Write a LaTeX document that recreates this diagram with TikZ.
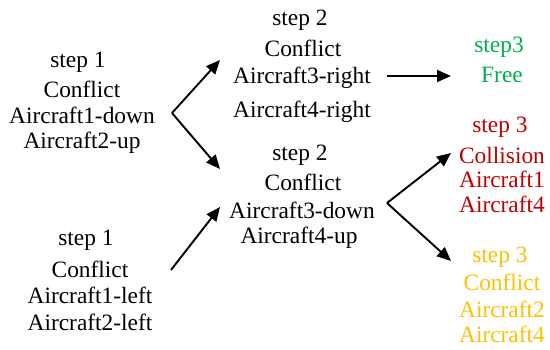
\documentclass[tikz,border=0pt]{standalone}
\usepackage{fontspec}
\setmainfont{Liberation Serif}
\usetikzlibrary{arrows.meta}
\definecolor{freegreen}{HTML}{00B050}
\definecolor{collred}{HTML}{C00000}
\definecolor{confamber}{HTML}{FFC000}
\begin{document}
\begin{tikzpicture}[x=1pt,y=-1pt,
  txt/.style={anchor=base,inner sep=0pt,font=\rmfamily\fontsize{23.4}{26}\selectfont},
  flow/.style={line width=1.9pt,-{Triangle[length=14pt,width=12pt]}}]
\useasboundingbox[fill=white] (0,0) rectangle (550,349);

% step 1, first case
\node[txt] (a1) at (78,67)  {step 1};
\node[txt] (a2) at (82,97)  {Conflict};
\node[txt] (a3) at (82,123) {Aircraft1-down};
\node[txt] (a4) at (82,148) {Aircraft2-up};

% step 1, second case
\node[txt] (d1) at (86,245) {step 1};
\node[txt] (d2) at (90,277) {Conflict};
\node[txt] (d3) at (90,303) {Aircraft1-left};
\node[txt] (d4) at (90,330) {Aircraft2-left};

% step 2, upper
\node[txt] (b1) at (300,25)  {step 2};
\node[txt] (b2) at (303,56)  {Conflict};
\node[txt] (b3) at (302,83)  {Aircraft3-right};
\node[txt] (b4) at (302,117) {Aircraft4-right};

% step 2, lower
\node[txt] (c1) at (300,160) {step 2};
\node[txt] (c2) at (303,190) {Conflict};
\node[txt] (c3) at (302,218) {Aircraft3-down};
\node[txt] (c4) at (299,243) {Aircraft4-up};

% step 3 outcomes
\node[txt,text=freegreen] (g1) at (499,52) {step3};
\node[txt,text=freegreen] (g2) at (502,82) {Free};

\node[txt,text=collred] (r1) at (500,132) {step 3};
\node[txt,text=collred] (r2) at (502,163) {Collision};
\node[txt,text=collred] (r3) at (502,187) {Aircraft1};
\node[txt,text=collred] (r4) at (502,212) {Aircraft4};

\node[txt,text=confamber] (o1) at (500,262) {step 3};
\node[txt,text=confamber] (o2) at (502,290) {Conflict};
\node[txt,text=confamber] (o3) at (502,317) {Aircraft2};
\node[txt,text=confamber] (o4) at (502,342) {Aircraft4};

% branch points and arrow ends
\coordinate (fa) at (172,113);
\coordinate (fa-up) at (220,60);
\coordinate (fa-dn) at (220,169);
\coordinate (fd) at (171,270);
\coordinate (fd-up) at (220,207);
\coordinate (fb) at (387,76);
\coordinate (fb-r) at (451,76);
\coordinate (fc) at (387,203);
\coordinate (fc-up) at (451,153);
\coordinate (fc-dn) at (451,261);

\draw[flow] (fa) -- (fa-up);
\draw[flow] (fa) -- (fa-dn);
\draw[flow] (fd) -- (fd-up);
\draw[flow] (fb) -- (fb-r);
\draw[flow] (fc) -- (fc-up);
\draw[flow] (fc) -- (fc-dn);
\end{tikzpicture}
\end{document}
